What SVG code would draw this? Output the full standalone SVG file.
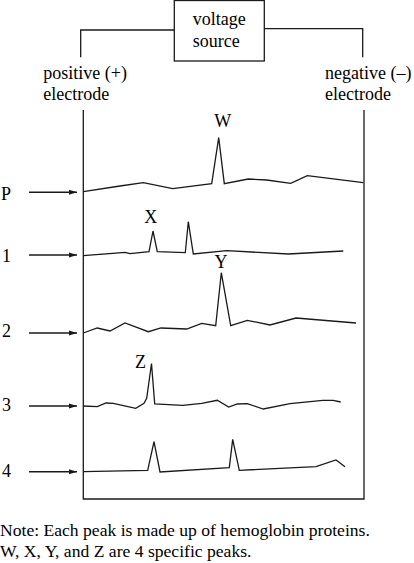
<svg xmlns="http://www.w3.org/2000/svg" width="414" height="563" viewBox="0 0 414 563">
<defs>
<marker id="ah" markerWidth="8" markerHeight="6" refX="8" refY="3" orient="auto" markerUnits="userSpaceOnUse">
<path d="M0,0.5 L8,3 L0,5.5 Z" fill="#1a1a1a"/>
</marker>
</defs>
<g id="source">
<rect x="174.3" y="0.5" width="90" height="60.5" fill="none" stroke="#1a1a1a" stroke-width="1.3"/>
<text x="192.7" y="25" font-family="Liberation Serif, serif" font-size="18">voltage</text>
<text x="192.7" y="46.7" font-family="Liberation Serif, serif" font-size="18">source</text>
</g>
<g id="positive-electrode">
<text x="43.3" y="79" font-family="Liberation Serif, serif" font-size="18">positive (+)</text>
<text x="43.3" y="100" font-family="Liberation Serif, serif" font-size="18">electrode</text>
</g>
<g id="negative-electrode">
<text x="325" y="79" font-family="Liberation Serif, serif" font-size="18">negative (&#8211;)</text>
<text x="325" y="100" font-family="Liberation Serif, serif" font-size="18">electrode</text>
</g>
<g id="tank" fill="none" stroke="#1a1a1a" stroke-width="1.3">
<path d="M83.3,110 V499 H364 V110"/>
</g>
<g id="connectors" fill="none" stroke="#1a1a1a" stroke-width="1.3">
<path d="M80.7,57.3 V30 H174.3"/>
<path d="M264.3,28.7 H362.7 V57.3"/>
<line x1="29" y1="192.3" x2="77" y2="192.3" stroke-width="1.5" marker-end="url(#ah)"/>
<line x1="29" y1="255" x2="77" y2="255" stroke-width="1.5" marker-end="url(#ah)"/>
<line x1="29" y1="333" x2="77" y2="333" stroke-width="1.5" marker-end="url(#ah)"/>
<line x1="29" y1="406" x2="77" y2="406" stroke-width="1.5" marker-end="url(#ah)"/>
<line x1="29" y1="471.7" x2="77" y2="471.7" stroke-width="1.5" marker-end="url(#ah)"/>
</g>
<g id="lane-P">
<text x="1" y="200" font-family="Liberation Serif, serif" font-size="18">P</text>
<path fill="none" stroke="#1a1a1a" stroke-width="1.3" d="M83.3,191.7 L120,186 L143.3,182.7 L172.7,188.7 L211.7,183.7 L218.7,137.7 L224.3,183.7 L248.3,179 L266.7,180 L290.7,183.3 L307.3,175.7 L363.3,182.7"/>
<text x="222.7" y="126.7" text-anchor="middle" font-family="Liberation Serif, serif" font-size="18">W</text>
</g>
<g id="lane-1">
<text x="2" y="261.7" font-family="Liberation Serif, serif" font-size="18">1</text>
<path fill="none" stroke="#1a1a1a" stroke-width="1.3" d="M83.3,255.7 L125,252.3 L130,253.7 L149,251.7 L153,231 L157.3,251.7 L185.3,252.7 L188.3,221.7 L193.3,254 L226.7,250.7 L288.3,254 L343.3,251"/>
<text x="150.7" y="223.3" text-anchor="middle" font-family="Liberation Serif, serif" font-size="18">X</text>
</g>
<g id="lane-2">
<text x="2" y="336.7" font-family="Liberation Serif, serif" font-size="18">2</text>
<path fill="none" stroke="#1a1a1a" stroke-width="1.3" d="M83.3,333 L97.3,328 L110,331 L125,323 L148.3,331.7 L161,328 L186.7,329 L201.7,323.3 L215.7,325.7 L221.3,272.7 L230.7,325.7 L247.3,320.3 L270,325 L296,318 L356,323"/>
<text x="221" y="268.3" text-anchor="middle" font-family="Liberation Serif, serif" font-size="18">Y</text>
</g>
<g id="lane-3">
<text x="2" y="410.7" font-family="Liberation Serif, serif" font-size="18">3</text>
<path fill="none" stroke="#1a1a1a" stroke-width="1.3" d="M83.3,406 L97.3,406.7 L106,403 L113.3,403.3 L135.7,408.3 L144,403.3 L146.7,398.3 L151.5,363.5 L154.7,404 L182.7,405.3 L201.7,403.3 L217.3,400.3 L228.7,407 L237.3,404 L247.3,403.7 L263.3,409 L290,403.7 L322.7,400.3 L333.3,400.3 L340.7,402"/>
<text x="140.5" y="368.3" text-anchor="middle" font-family="Liberation Serif, serif" font-size="18">Z</text>
</g>
<g id="lane-4">
<text x="2" y="476.7" font-family="Liberation Serif, serif" font-size="18">4</text>
<path fill="none" stroke="#1a1a1a" stroke-width="1.3" d="M83.3,471.7 L147.7,470.3 L154,441.7 L160,472 L229.3,467.7 L232.7,439.3 L239.3,470.3 L316,466.7 L336,460 L345,466.7"/>
</g>
<g id="note">
<text x="0" y="535.7" font-family="Liberation Serif, serif" font-size="17.6">Note: Each peak is made up of hemoglobin proteins.</text>
<text x="0" y="556.7" font-family="Liberation Serif, serif" font-size="17.6">W, X, Y, and Z are 4 specific peaks.</text>
</g>
</svg>
